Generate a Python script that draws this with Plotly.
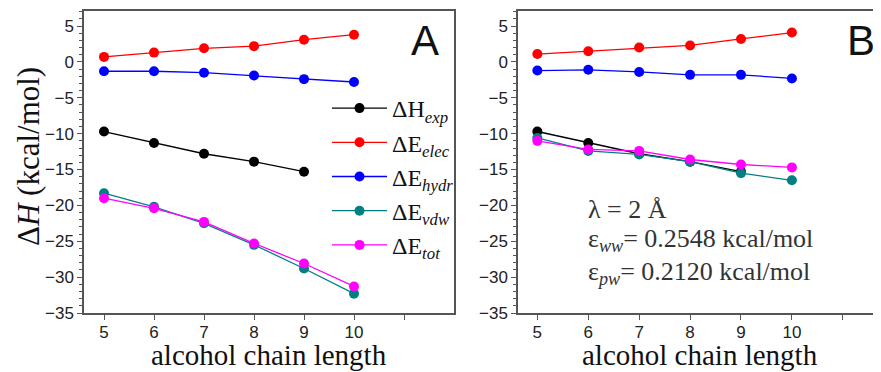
import plotly.graph_objects as go

# ---------------- data ----------------
chain_length = [5, 6, 7, 8, 9, 10]
chain_length_exp = [5, 6, 7, 8, 9]

H_exp = [-9.7, -11.3, -12.8, -13.9, -15.3]

# Panel A
E_elec_A = [0.7, 1.3, 1.9, 2.2, 3.1, 3.8]
E_hydr_A = [-1.3, -1.3, -1.5, -1.9, -2.4, -2.8]
E_vdw_A = [-18.3, -20.2, -22.5, -25.5, -28.8, -32.3]
E_tot_A = [-19.0, -20.4, -22.3, -25.3, -28.1, -31.3]

# Panel B
E_elec_B = [1.1, 1.5, 2.0, 2.3, 3.2, 4.1]
E_hydr_B = [-1.2, -1.1, -1.4, -1.8, -1.8, -2.3]
E_vdw_B = [-10.6, -12.4, -12.9, -13.9, -15.5, -16.5]
E_tot_B = [-11.0, -12.2, -12.4, -13.6, -14.3, -14.7]

x_tickvals = [5, 6, 7, 8, 9, 10, 11]
x_ticktext = ["5", "6", "7", "8", "9", "10", ""]
y_tickvals = [5, 0, -5, -10, -15, -20, -25, -30, -35]

series_names = [
    "ΔH<sub><i>exp</i></sub>",
    "ΔE<sub><i>elec</i></sub>",
    "ΔE<sub><i>hydr</i></sub>",
    "ΔE<sub><i>vdw</i></sub>",
    "ΔE<sub><i>tot</i></sub>",
]
colors = ["#000000", "#ff0000", "#0000ff", "#008080", "#ff00ff"]

# page body has an 8px default margin: work in window pixels and shift
OFF = 8
W, H = 881 - OFF, 372 - OFF
TOP, BOT = 11, 313          # plot-area top/bottom in window pixels
PH = BOT - TOP
SERIF = "Liberation Serif, Times New Roman, serif"
SANS = "Liberation Sans, Arial, sans-serif"


def px2paper(px):
    return (px - OFF) / W


def py2paper(py):
    return 1 - (py - TOP) / PH


fig = go.Figure()

panelA = [(chain_length_exp, H_exp), (chain_length, E_elec_A), (chain_length, E_hydr_A),
          (chain_length, E_vdw_A), (chain_length, E_tot_A)]
panelB = [(chain_length_exp, H_exp), (chain_length, E_elec_B), (chain_length, E_hydr_B),
          (chain_length, E_vdw_B), (chain_length, E_tot_B)]

for (xs, ys), name, c in zip(panelA, series_names, colors):
    fig.add_trace(go.Scatter(x=xs, y=ys, mode="lines+markers", name=name,
                             line=dict(color=c, width=1.3),
                             marker=dict(color=c, size=10),
                             xaxis="x", yaxis="y", showlegend=True))
for (xs, ys), name, c in zip(panelB, series_names, colors):
    fig.add_trace(go.Scatter(x=xs, y=ys, mode="lines+markers", name=name,
                             line=dict(color=c, width=1.3),
                             marker=dict(color=c, size=10),
                             xaxis="x2", yaxis="y2", showlegend=False))

axis_line = dict(showline=True, linecolor="#555555", linewidth=1.5,
                 ticks="outside", ticklen=5, tickcolor="#555555", tickwidth=1.2,
                 showgrid=False, zeroline=False, automargin=False,
                 tickfont=dict(family=SANS, size=17, color="#222222"))

xaxis_extra = dict(ticklabelstandoff=-2)

left_dom = [px2paper(84), px2paper(454)]
right_dom = [px2paper(518), 1.0]

fig.update_layout(
    width=W, height=H,
    margin=dict(l=0, r=0, t=TOP - OFF, b=H - (BOT - OFF), autoexpand=False),
    paper_bgcolor="white", plot_bgcolor="white",
    xaxis=dict(domain=left_dom, range=[4.6, 12.0], tickvals=x_tickvals, ticktext=x_ticktext,
               mirror=True, anchor="y", **axis_line, **xaxis_extra),
    yaxis=dict(domain=[0, 1], range=[-35, 7.1], tickvals=y_tickvals, mirror=True, anchor="x",
               minor=dict(dtick=1, ticklen=3, ticks="outside", tickcolor="#555555"),
               **axis_line),
    xaxis2=dict(domain=right_dom, range=[4.62, 11.75], tickvals=x_tickvals, ticktext=x_ticktext,
                mirror=True, anchor="y2", **axis_line, **xaxis_extra),
    yaxis2=dict(domain=[0, 1], range=[-35, 7.1], tickvals=y_tickvals, mirror=False, anchor="x2",
                minor=dict(dtick=1, ticklen=3, ticks="outside", tickcolor="#555555"),
                **axis_line),
    legend=dict(x=px2paper(327), y=py2paper(86), xanchor="left", yanchor="top",
                bgcolor="rgba(0,0,0,0)", borderwidth=0,
                font=dict(family=SERIF, size=24, color="#111"),
                itemwidth=55, tracegroupgap=0),
)

# axis titles
fig.add_annotation(text="Δ<i>H</i> (kcal/mol)", x=px2paper(28), y=py2paper(157), xref="paper", yref="paper",
                   textangle=-90, showarrow=False, xanchor="center", yanchor="middle",
                   font=dict(family=SERIF, size=31, color="#111"))
for cx in (269, 700):
    fig.add_annotation(text="alcohol chain length", x=px2paper(cx), y=py2paper(355), xref="paper", yref="paper",
                       showarrow=False, xanchor="center", yanchor="middle",
                       font=dict(family=SERIF, size=29, color="#111"))

fig.add_annotation(text="A", x=px2paper(425), y=py2paper(40), xref="paper", yref="paper",
                   xanchor="center", yanchor="middle",
                   showarrow=False, font=dict(family=SANS, size=42, color="#111"))
fig.add_annotation(text="B", x=px2paper(861), y=py2paper(40), xref="paper", yref="paper",
                   xanchor="center", yanchor="middle",
                   showarrow=False, font=dict(family=SANS, size=42, color="#111"))

notes = ["λ = 2 Å",
         "ε<sub><i>ww</i></sub>= 0.2548 kcal/mol",
         "ε<sub><i>pw</i></sub>= 0.2120 kcal/mol"]
note_y = [209, 240, 273]
for t, py in zip(notes, note_y):
    fig.add_annotation(text=t, x=px2paper(586), y=py2paper(py), xref="paper", yref="paper",
                       xanchor="left", yanchor="middle", showarrow=False,
                       font=dict(family=SERIF, size=26, color="#333"))

fig.write_html("out.html")
